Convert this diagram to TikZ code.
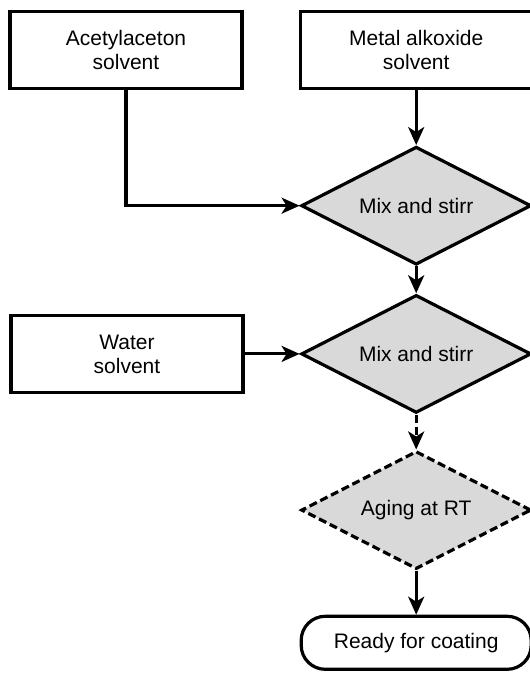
\documentclass[tikz,border=0pt]{standalone}
\usepackage{fontspec}
\setmainfont{Liberation Sans}
\usetikzlibrary{arrows.meta,positioning,shapes.geometric}

\begin{document}
\begin{tikzpicture}[
    x=1pt, y=1pt,
    font=\fontsize{21}{24}\selectfont,
    inbox/.style={draw, line width=3.2pt, align=center, minimum width=232pt, minimum height=77pt, inner sep=0pt},
    choice/.style={draw, diamond, shape aspect=2, line width=3.2pt, fill=gray!30, minimum width=230pt, minimum height=118pt, inner sep=0pt},
    ending/.style={draw, line width=3.2pt, rounded corners=24pt, minimum width=230pt, minimum height=53pt, inner sep=0pt},
    hatched/.style={dash pattern=on 8pt off 4pt},
    flow/.style={-{Stealth[length=18pt,width=16pt,inset=5pt]}, line width=3.2pt}
  ]
    \useasboundingbox (0,0) rectangle (530,673);
    \node[inbox] (acac) at (126,623) {Acetylaceton\\solvent};
    \node[inbox, right=55pt of acac] (alkox) {Metal alkoxide\\solvent};
    \node[choice, below=55pt of alkox] (mix1) {Mix and stirr};
    \node[choice, below=27pt of mix1] (mix2) {Mix and stirr};
    \node[inbox, left=55pt of mix2] (water) {Water\\solvent};
    \node[choice, hatched, below=35pt of mix2] (aging) {Aging at RT};
    \node[ending, below=44pt of aging] (ready) {Ready for coating};
    \draw[flow] (acac.south) |- (mix1.west);
    \draw[flow] (alkox) -- (mix1);
    \draw[flow] (mix1) -- (mix2);
    \draw[flow] (water) -- (mix2);
    \draw[flow, hatched] (mix2) -- (aging);
    \draw[flow] (aging) -- (ready);
\end{tikzpicture}
\end{document}
